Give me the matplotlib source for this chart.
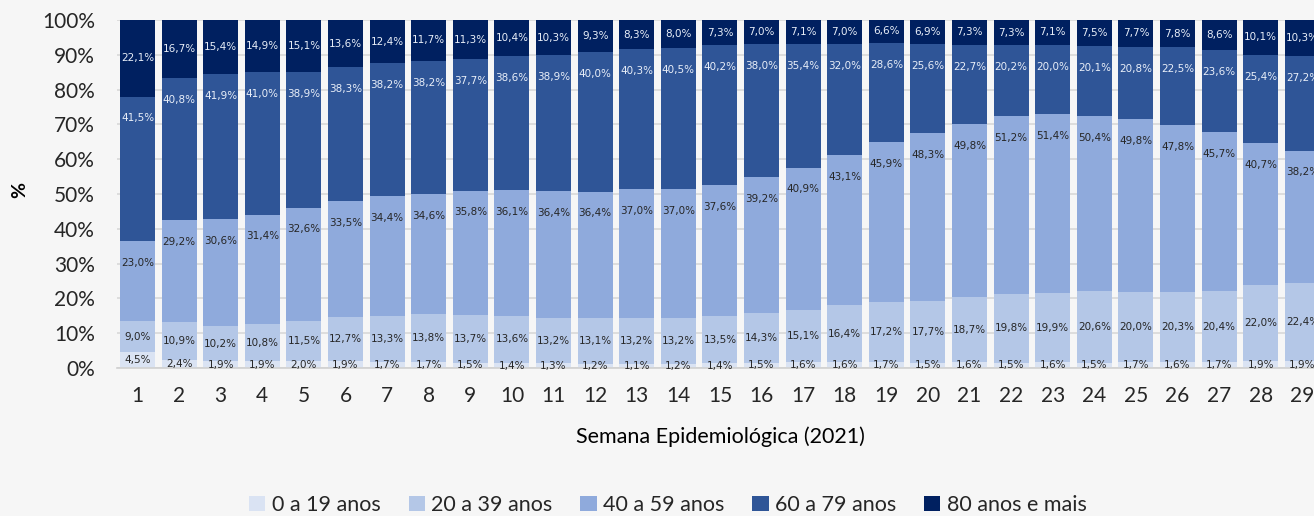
import matplotlib
matplotlib.use("Agg")
import matplotlib.pyplot as plt
import numpy as np
from matplotlib.patches import Patch

weeks = list(range(1, 30))
age_groups = ["0 a 19 anos", "20 a 39 anos", "40 a 59 anos", "60 a 79 anos", "80 anos e mais"]
g0_19 = [4.5, 2.4, 1.9, 1.9, 2.0, 1.9, 1.7, 1.7, 1.5, 1.4, 1.3, 1.2, 1.1, 1.2, 1.4, 1.5, 1.6, 1.6, 1.7,
         1.5, 1.6, 1.5, 1.6, 1.5, 1.7, 1.6, 1.7, 1.9, 1.9]
g20_39 = [9.0, 10.9, 10.2, 10.8, 11.5, 12.7, 13.3, 13.8, 13.7, 13.6, 13.2, 13.1, 13.2, 13.2, 13.5, 14.3,
          15.1, 16.4, 17.2, 17.7, 18.7, 19.8, 19.9, 20.6, 20.0, 20.3, 20.4, 22.0, 22.4]
g40_59 = [23.0, 29.2, 30.6, 31.4, 32.6, 33.5, 34.4, 34.6, 35.8, 36.1, 36.4, 36.4, 37.0, 37.0, 37.6, 39.2,
          40.9, 43.1, 45.9, 48.3, 49.8, 51.2, 51.4, 50.4, 49.8, 47.8, 45.7, 40.7, 38.2]
g60_79 = [41.5, 40.8, 41.9, 41.0, 38.9, 38.3, 38.2, 38.2, 37.7, 38.6, 38.9, 40.0, 40.3, 40.5, 40.2, 38.0,
          35.4, 32.0, 28.6, 25.6, 22.7, 20.2, 20.0, 20.1, 20.8, 22.5, 23.6, 25.4, 27.2]
g80 = [22.1, 16.7, 15.4, 14.9, 15.1, 13.6, 12.4, 11.7, 11.3, 10.4, 10.3, 9.3, 8.3, 8.0, 7.3, 7.0, 7.1,
       7.0, 6.6, 6.9, 7.3, 7.3, 7.1, 7.5, 7.7, 7.8, 8.6, 10.1, 10.3]
yticks = [0, 10, 20, 30, 40, 50, 60, 70, 80, 90, 100]
ytick_labels = [f"{v}%" for v in yticks]

series = [g0_19, g20_39, g40_59, g60_79, g80]
colors = ["#dae3f3", "#b4c7e7", "#8faadc", "#2f5597", "#002060"]
label_colors = ["#262626", "#262626", "#262626", "#e8eef8", "#e8eef8"]
label_mode = ["center", "center", "top", "top", "center"]

W, H = 1314, 516
bg = "#f6f6f6"
fig = plt.figure(figsize=(W / 100, H / 100), dpi=100, facecolor=bg)
ax = fig.add_axes([117 / W, 1 - 368 / H, (W - 117) / W, 348 / H])
ax.set_facecolor(bg)

x = np.array(weeks, dtype=float)
bottom = np.zeros(len(weeks))
for vals, col, lc, mode in zip(series, colors, label_colors, label_mode):
    v = np.array(vals)
    ax.bar(x, v, width=0.84, bottom=bottom, color=col, edgecolor="none", zorder=2)
    for xi, b, h in zip(x, bottom, v):
        if mode == "center":
            y = b + h / 2
        else:
            y = b + h - 6.3
        ax.text(xi, y, f"{h:.1f}%".replace(".", ","), ha="center", va="center",
                fontsize=7.5, color=lc, family="DejaVu Sans", zorder=3, clip_on=False)
    bottom = bottom + v

ax.set_xlim(0.507, 29.28)
ax.set_ylim(0, 100)
ax.set_yticks(yticks)
ax.set_yticklabels(ytick_labels)
ax.set_xticks(x)
ax.set_xticklabels([str(w) for w in weeks])
ax.yaxis.grid(True, color="#d9d9d9", linewidth=1.2, zorder=0)
ax.set_axisbelow(True)
for s in ["top", "right", "left"]:
    ax.spines[s].set_visible(False)
ax.spines["bottom"].set_color("#d0d0d0")
ax.spines["bottom"].set_linewidth(1.2)
ax.tick_params(axis="both", length=0, labelsize=15, colors="#262626")
ax.tick_params(axis="y", pad=16)
ax.tick_params(axis="x", pad=13)
for t in ax.get_xticklabels() + ax.get_yticklabels():
    t.set_family("Lato")

fig.text(20 / W, 1 - 190 / H, "%", rotation=90, ha="center", va="center",
         fontsize=14, fontweight="bold", family="Lato", color="#000000")
fig.text(720 / W, 1 - 437 / H, "Semana Epidemiológica (2021)", ha="center", va="center",
         fontsize=15.5, family="Lato", color="#000000")

handles = [Patch(facecolor=c, edgecolor="none") for c in colors]
leg = fig.legend(handles, age_groups, loc="center", bbox_to_anchor=(668 / W, 1 - 505 / H),
                 ncol=5, frameon=False, handlelength=0.75, handleheight=0.75, handletextpad=0.3,
                 columnspacing=1.3, prop={"family": "Lato", "size": 15.5})
for t in leg.get_texts():
    t.set_color("#262626")

fig.savefig("out.png", dpi=100, facecolor=bg)
